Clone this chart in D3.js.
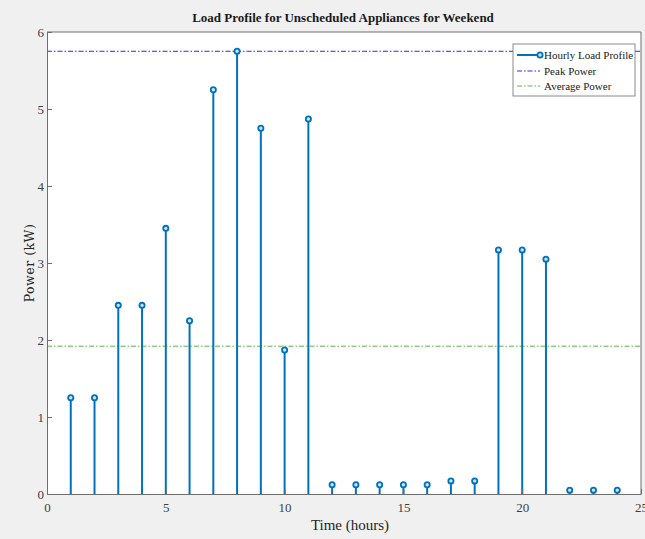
<!DOCTYPE html>
<html>
<head>
<meta charset="utf-8">
<script src="https://cdn.jsdelivr.net/npm/d3@7"></script>
<style>
  html, body { margin: 0; padding: 0; background: #f0f0f0; }
  svg { display: block; }
</style>
</head>
<body>
<svg id="chart" width="645" height="539"></svg>
<script>
// Hourly load of unscheduled appliances on a weekend day (kW)
const hours = d3.range(1, 25);
const loadKW = [1.25, 1.25, 2.45, 2.45, 3.45, 2.25, 5.25, 5.75, 4.75, 1.87, 4.87, 0.12,
                0.12, 0.12, 0.12, 0.12, 0.17, 0.17, 3.17, 3.17, 3.05, 0.05, 0.05, 0.05];
const xTicks = [0, 5, 10, 15, 20, 25];
const yTicks = [0, 1, 2, 3, 4, 5, 6];
const legendLabels = ["Hourly Load Profile", "Peak Power", "Average Power"];

const peak = d3.max(loadKW);
const avg = d3.mean(loadKW);

const margin = { left: 47, right: 4, top: 32, bottom: 45 };
const W = 645, H = 539;
const svg = d3.select("#chart");

const x = d3.scaleLinear().domain([0, 25]).range([margin.left, W - margin.right]);
const y = d3.scaleLinear().domain([0, 6]).range([H - margin.bottom, margin.top]);

const serif = "'Liberation Serif', 'DejaVu Serif', serif";
const stemColor = "#0072bd";
const peakColor = "#2b2bf5";
const avgColor = "#5fb34a";
const dash = "5,2,1.5,2";

// plot background
svg.append("rect")
  .attr("x", x(0)).attr("y", y(6))
  .attr("width", x(25) - x(0)).attr("height", y(0) - y(6))
  .attr("fill", "#ffffff");

// reference lines
svg.append("line")
  .attr("x1", x(0)).attr("x2", x(25))
  .attr("y1", y(peak)).attr("y2", y(peak))
  .attr("stroke", peakColor).attr("stroke-width", 1)
  .attr("stroke-dasharray", dash);
svg.append("line")
  .attr("x1", x(0)).attr("x2", x(25))
  .attr("y1", y(avg)).attr("y2", y(avg))
  .attr("stroke", avgColor).attr("stroke-width", 1)
  .attr("stroke-dasharray", dash);

// stems
const g = svg.append("g");
g.selectAll("line.stem").data(hours).join("line")
  .attr("class", "stem")
  .attr("x1", d => x(d)).attr("x2", d => x(d))
  .attr("y1", y(0)).attr("y2", (d, i) => y(loadKW[i]))
  .attr("stroke", stemColor).attr("stroke-width", 2);
g.selectAll("circle.mk").data(hours).join("circle")
  .attr("class", "mk")
  .attr("cx", d => x(d)).attr("cy", (d, i) => y(loadKW[i]))
  .attr("r", 2.6)
  .attr("fill", "#cfe3f3").attr("stroke", stemColor).attr("stroke-width", 1.8);

// axes
const axisColor = "#6e6e6e";
const xAxis = svg.append("g").attr("transform", `translate(0,${y(0)})`)
  .call(d3.axisBottom(x).tickValues(xTicks).tickFormat(d3.format("d"))
    .tickSizeInner(-5).tickSizeOuter(0).tickPadding(9));
const yAxis = svg.append("g").attr("transform", `translate(${x(0)},0)`)
  .call(d3.axisLeft(y).tickValues(yTicks).tickFormat(d3.format("d"))
    .tickSizeInner(-5).tickSizeOuter(0).tickPadding(3));
[xAxis, yAxis].forEach(a => {
  a.select(".domain").attr("stroke", axisColor);
  a.selectAll(".tick line").attr("stroke", axisColor);
  a.selectAll(".tick text").attr("fill", "#404040")
    .style("font-family", serif).style("font-size", "13px");
});
// top and right box edges
svg.append("path")
  .attr("d", `M${x(0)},${y(6)}H${x(25)}V${y(0)}`)
  .attr("fill", "none").attr("stroke", axisColor);

// title and axis labels
svg.append("text")
  .attr("x", (x(0) + x(25)) / 2 - 1).attr("y", 22)
  .attr("text-anchor", "middle")
  .style("font-family", serif).style("font-weight", "bold").style("font-size", "13px")
  .attr("fill", "#1a1a1a")
  .text("Load Profile for Unscheduled Appliances for Weekend");
svg.append("text")
  .attr("x", (x(0) + x(25)) / 2 + 6).attr("y", 530)
  .attr("text-anchor", "middle")
  .style("font-family", serif).style("font-size", "15px")
  .attr("fill", "#262626")
  .text("Time (hours)");
svg.append("text")
  .attr("transform", `translate(34,${(y(0) + y(6)) / 2}) rotate(-90)`)
  .attr("text-anchor", "middle")
  .style("font-family", "'DejaVu Serif', serif").style("font-size", "12.5px")
  .style("letter-spacing", "0.5px")
  .attr("fill", "#262626")
  .text("Power (kW)");

// legend
const lg = svg.append("g").attr("transform", "translate(513,44)");
lg.append("rect").attr("width", 122).attr("height", 52)
  .attr("fill", "#ffffff").attr("stroke", "#6e6e6e").attr("stroke-width", 0.8);
const rows = [11, 27, 42];
lg.append("line").attr("x1", 4).attr("x2", 27).attr("y1", rows[0]).attr("y2", rows[0])
  .attr("stroke", stemColor).attr("stroke-width", 2);
lg.append("circle").attr("cx", 27).attr("cy", rows[0]).attr("r", 2.6)
  .attr("fill", "#cfe3f3").attr("stroke", stemColor).attr("stroke-width", 1.8);
lg.append("line").attr("x1", 4).attr("x2", 27).attr("y1", rows[1]).attr("y2", rows[1])
  .attr("stroke", peakColor).attr("stroke-dasharray", dash);
lg.append("line").attr("x1", 4).attr("x2", 27).attr("y1", rows[2]).attr("y2", rows[2])
  .attr("stroke", avgColor).attr("stroke-dasharray", dash);
lg.selectAll("text.lbl").data(legendLabels).join("text")
  .attr("class", "lbl")
  .attr("x", 31).attr("y", (d, i) => rows[i] + 4)
  .style("font-family", serif).style("font-size", "11px")
  .attr("fill", "#1a1a1a")
  .text(d => d);
</script>
</body>
</html>
